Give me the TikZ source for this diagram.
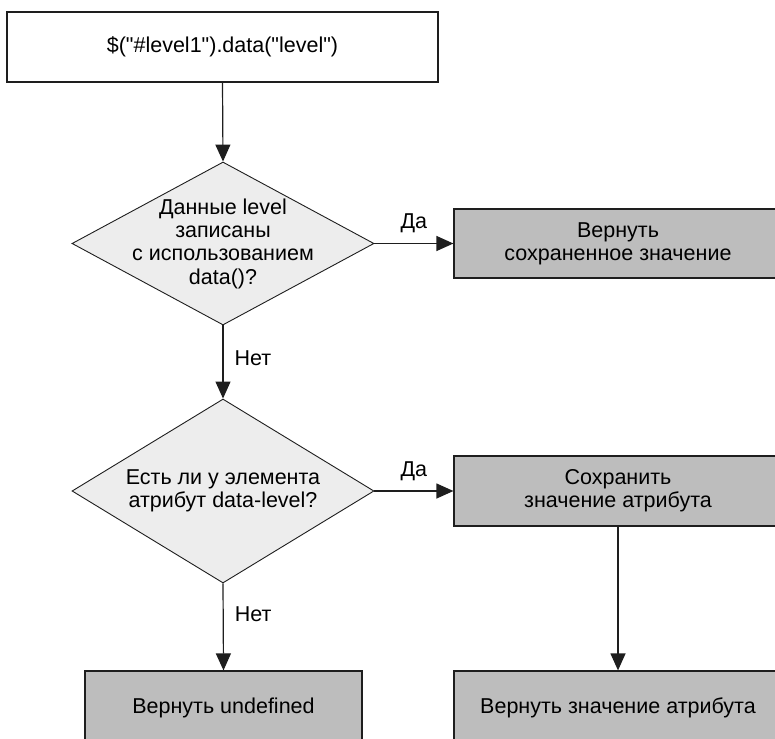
\documentclass[tikz,border=0pt]{standalone}
\usepackage{fontspec}
\setmainfont{Liberation Sans}[Ligatures=TeXOff]
\usetikzlibrary{shapes.geometric,arrows.meta}
\definecolor{diafill}{HTML}{EDEDED}
\definecolor{boxfill}{HTML}{BDBDBD}
\definecolor{linec}{HTML}{1E1E1E}
\newcommand{\dqt}{\char34\relax}
\begin{document}
\begin{tikzpicture}[x=1pt,y=-1pt,
  every node/.style={font=\fontsize{21.5}{23.3}\selectfont, text=black},
  plainbox/.style={draw=linec, line width=1.2pt, fill=white, rectangle, inner sep=0pt, align=center},
  graybox/.style={draw=linec, line width=1.2pt, fill=boxfill, rectangle, inner sep=0pt, align=center},
  decision/.style={draw=linec, line width=0.9pt, fill=diafill, diamond, inner sep=0pt},
  dtext/.style={align=center, inner sep=0pt},
  conn/.style={draw=linec, line width=1.2pt, -{Triangle[length=17pt,width=15pt]}},
  elabel/.style={inner sep=0pt}
]
\useasboundingbox (0,0) rectangle (775,738);
\clip (0,0) rectangle (775,738);
\node[plainbox, minimum width=431, minimum height=70] (start) at (222.5,47) {\$(\dqt\#level1\dqt).data(\dqt level\dqt)};
\node[decision, minimum width=302, minimum height=163] (d1) at (223,243.5) {};
\node[dtext] (d1t) at (d1.center) {Данные level\\записаны\\с использованием\\data()?};
\node[graybox, minimum width=328, minimum height=69] (ret) at (618,243.5) {Вернуть\\сохраненное значение};
\node[decision, minimum width=302, minimum height=184] (d2) at (223,491) {};
\node[dtext] (d2t) at (d2.center) {Есть ли у элемента\\атрибут data-level?};
\node[graybox, minimum width=328, minimum height=70] (save) at (618,491) {Сохранить\\значение атрибута};
\node[graybox, minimum width=277, minimum height=74] (undef) at (223.5,708) {Вернуть undefined};
\node[graybox, minimum width=328, minimum height=74] (retattr) at (618,708) {Вернуть значение атрибута};

\draw[conn] (start.south) -- (d1.north);
\draw[conn] (d1.east) -- (ret.west) node[elabel, midway, above=10pt] {Да};
\draw[conn] (d1.south) -- (d2.north) node[elabel, pos=0.45, right=11pt] {Нет};
\draw[conn] (d2.east) -- (save.west) node[elabel, midway, above=10pt] {Да};
\draw[conn] (d2.south) -- (undef.north) node[elabel, pos=0.35, right=11pt] {Нет};
\draw[conn] (save.south) -- (retattr.north);
\end{tikzpicture}
\end{document}
